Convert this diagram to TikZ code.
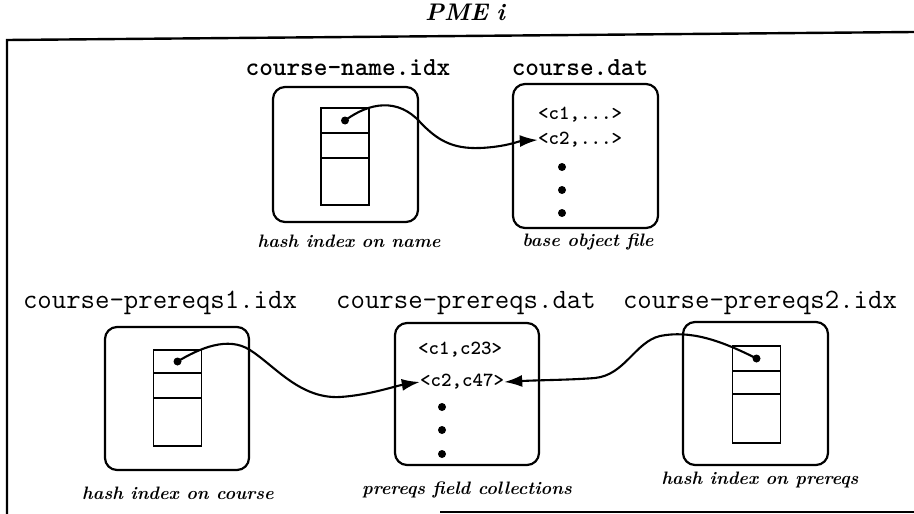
\documentclass[tikz,border=0pt]{standalone}
\usepackage{fontspec}
\usetikzlibrary{arrows.meta}
\tikzset{
  frameline/.style={line width=2.4pt},
  filebox/.style={draw, line width=2.2pt, rounded corners=12pt, inner sep=0pt},
  cell/.style={draw, line width=1.8pt, minimum width=48pt, inner sep=0pt},
  ptr/.style={circle, fill, inner sep=0pt, minimum size=8pt},
  vdot/.style={circle, fill, inner sep=0pt, minimum size=8pt},
  toplabel/.style={font=\fontsize{26}{28}\selectfont\ttfamily\bfseries, anchor=base, inner sep=0pt},
  botlabel/.style={font=\fontsize{28}{30}\selectfont\ttfamily, anchor=base, inner sep=0pt},
  entry/.style={font=\fontsize{20}{22}\selectfont\ttfamily\bfseries, inner sep=0pt},
  caption/.style={font=\fontsize{18}{20}\selectfont\bfseries\itshape, anchor=base, inner sep=0pt},
  link/.style={line width=2.1pt, -{Latex[length=18pt,width=12pt]}},
}
\begin{document}
\begin{tikzpicture}[x=1pt,y=-1pt]
\useasboundingbox (0,0) rectangle (914,514);
% frame
\coordinate (f1) at (7,514);
\coordinate (f2) at (7,40);
\coordinate (f3) at (914,32);
\coordinate (f4) at (440,512);
\coordinate (f5) at (914,512);
\draw[frameline] (f1) -- (f2) -- (f3);
\draw[frameline] (f4) -- (f5);
\node[font=\fontsize{24}{26}\selectfont\bfseries\itshape, anchor=base, inner sep=0pt] (title) at (465,20) {PME\hspace{0.35em}i};

% top row
\node[toplabel] (lA) at (348,75) {course-name.idx};
\node[toplabel] (lB) at (580,75) {course.dat};
\node[filebox, minimum width=145pt, minimum height=135pt] (A) at (345.5,154.5) {};
\node[filebox, minimum width=145pt, minimum height=144pt] (B) at (585.5,156) {};
\node[cell, minimum height=25pt] (A1) at (345,120.5) {};
\node[cell, minimum height=25pt] (A2) at (345,145.5) {};
\node[cell, minimum height=47pt] (A3) at (345,181.5) {};
\node[ptr] (pA) at (A1.center) {};
\node[entry] (b1) at (580,115) {<c1,...>};
\node[entry] (b2) at (580,140) {<c2,...>};
\node[vdot] (bd1) at (562,167) {};
\node[vdot] (bd2) at (562,190) {};
\node[vdot] (bd3) at (562,213) {};
\node[caption] (cA) at (349,247) {hash index on name};
\node[caption] (cB) at (588,246) {base object file};
\coordinate (wA1) at (420,122);
\coordinate (wA2) at (480,148);
\draw[link] (pA.center) .. controls (370,102) and (398,98) .. (wA1)
  .. controls (437,140) and (452,149) .. (wA2)
  .. controls (505,147) and (520,141) .. (b2.west);

% bottom row
\node[botlabel] (lC) at (160,308) {course-prereqs1.idx};
\node[botlabel] (lD) at (466,308) {course-prereqs.dat};
\node[botlabel] (lE) at (760,308) {course-prereqs2.idx};
\node[filebox, minimum width=144pt, minimum height=143pt] (C) at (177,398.5) {};
\node[filebox, minimum width=144pt, minimum height=142pt] (D) at (467,394) {};
\node[filebox, minimum width=145pt, minimum height=143pt] (E) at (755.5,393.5) {};
\node[cell, minimum height=23pt] (C1) at (177.5,361.5) {};
\node[cell, minimum height=25pt] (C2) at (177.5,385.5) {};
\node[cell, minimum height=48pt] (C3) at (177.5,422) {};
\node[ptr] (pC) at (C1.center) {};
\node[cell, minimum height=25pt] (E1) at (756.5,358.5) {};
\node[cell, minimum height=23pt] (E2) at (756.5,382.5) {};
\node[cell, minimum height=49pt] (E3) at (756.5,418.5) {};
\node[ptr] (pE) at (E1.center) {};
\node[entry] (d1) at (460,350) {<c1,c23>};
\node[entry] (d2) at (462,382) {<c2,c47>};
\node[vdot] (dd1) at (442,407) {};
\node[vdot] (dd2) at (442,430) {};
\node[vdot] (dd3) at (442,454) {};
\node[caption] (cC) at (178,499) {hash index on course};
\node[caption] (cD) at (467,494) {prereqs field collections};
\node[caption] (cE) at (760,484) {hash index on prereqs};
\coordinate (wC1) at (250,350);
\coordinate (wC2) at (340,397);
\draw[link] (pC.center) .. controls (200,348) and (228,336) .. (wC1)
  .. controls (275,366) and (300,399) .. (wC2)
  .. controls (370,395) and (395,386) .. (d2.west);
\coordinate (wE1) at (660,336);
\coordinate (wE2) at (595,378);
\draw[link] (pE.center) .. controls (720,340) and (690,330) .. (wE1)
  .. controls (635,342) and (625,375) .. (wE2)
  .. controls (570,380) and (540,380) .. (d2.east);
\end{tikzpicture}
\end{document}
